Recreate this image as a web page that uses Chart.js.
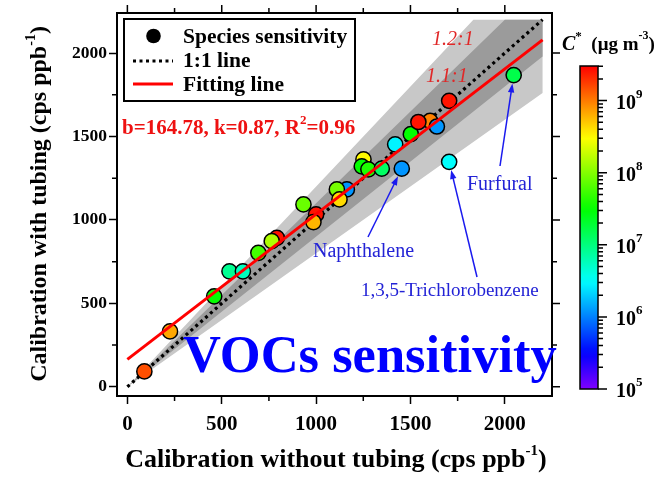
<!DOCTYPE html>
<html>
<head>
<meta charset="utf-8">
<script src="https://cdn.jsdelivr.net/npm/chart.js@4.4.1/dist/chart.umd.min.js"></script>
<style>
  html, body { margin: 0; padding: 0; background: #fff; }
  #wrap { width: 666px; height: 479px; position: relative; }
</style>
</head>
<body>
<div id="wrap"><canvas id="c" width="666" height="479"></canvas></div>
<script>
// Sensitivity of each VOC species, calibrated without and with the sampling tubing (cps ppb^-1)
const withoutTubing = [90, 226, 460, 541, 612, 694, 792, 765, 933, 1000, 986, 1163, 1110, 1124, 1251, 1242, 1277, 1348, 1454, 1419, 1502, 1604, 1542, 1640, 1705, 1705, 2047];
const withTubing    = [92, 332, 542, 692, 692, 803, 893, 873, 1093, 1033, 987, 1183, 1183, 1123, 1363, 1321, 1303, 1307, 1307, 1453, 1514, 1593, 1587, 1560, 1714, 1348, 1868];
// log10 of saturation concentration C* (ug m^-3) of each species
const logCstar      = [9.17, 8.83, 7.5, 6.92, 6.75, 7.75, 9.4, 8.17, 7.9, 9.4, 8.77, 6.08, 7.95, 8.63, 8.5, 7.5, 7.6, 7.1, 6.08, 6.45, 7.5, 8.97, 9.4, 6.08, 9.4, 6.5, 7.2];

// Labelled species: [label, index of the species]
const namedSpecies = [['Naphthalene', 18], ['1,3,5-Trichlorobenzene', 25], ['Furfural', 26]];

// Linear fit y = b + k x
const fitB = 164.78, fitK = 0.87, fitR2 = 0.96;
const lineEnd = 2200;
// ratio envelopes around the 1:1 line
const outerBand = [1.2, 0.8];
const innerBand = [1.1, 0.9];

const xTicks = [0, 500, 1000, 1500, 2000];
const yTicks = [0, 500, 1000, 1500, 2000];
const xMinorTicks = [250, 750, 1250, 1750];
const yMinorTicks = [250, 750, 1250, 1750];
const cbarDecades = [5, 6, 7, 8, 9];
const cbarMin = 5, cbarMax = 9.48;

const SERIF = '"Liberation Serif", "Times New Roman", serif';

function colorFor(v) {
  const t = Math.min(1, Math.max(0, (v - cbarMin) / (cbarMax - cbarMin)));
  return 'hsl(' + (270 * (1 - t)).toFixed(1) + ',100%,50%)';
}

function bandPolygon(r) {
  return [{x: 0, y: 0}, {x: lineEnd / r[0], y: lineEnd}, {x: lineEnd, y: lineEnd},
          {x: lineEnd, y: lineEnd * r[1]}, {x: 0, y: 0}];
}

const points = withoutTubing.map((x, i) => ({x: x, y: withTubing[i]}));
const pointColors = logCstar.map(colorFor);
const oneToOne = [{x: 0, y: 0}, {x: lineEnd, y: lineEnd}];
const fitLine = [{x: 0, y: fitB}, {x: lineEnd, y: fitB + fitK * lineEnd}];

// Draw text made of pieces, each with its own font and vertical shift
function richText(ctx, pieces, x, y, align) {
  let total = 0;
  pieces.forEach(p => { ctx.font = p.font; total += ctx.measureText(p.t).width; });
  let cx = align === 'center' ? x - total / 2 : (align === 'right' ? x - total : x);
  ctx.textAlign = 'left';
  pieces.forEach(p => {
    ctx.font = p.font;
    ctx.fillText(p.t, cx, y + (p.dy || 0));
    cx += ctx.measureText(p.t).width;
  });
}

function arrow(ctx, x0, y0, x1, y1, color) {
  const a = Math.atan2(y1 - y0, x1 - x0);
  const L = 9, W = 3.2;
  ctx.save();
  ctx.strokeStyle = color; ctx.fillStyle = color; ctx.lineWidth = 1.5;
  ctx.beginPath(); ctx.moveTo(x0, y0);
  ctx.lineTo(x1 - Math.cos(a) * L * 0.8, y1 - Math.sin(a) * L * 0.8); ctx.stroke();
  ctx.beginPath();
  ctx.moveTo(x1, y1);
  ctx.lineTo(x1 - Math.cos(a) * L - Math.sin(a) * W, y1 - Math.sin(a) * L + Math.cos(a) * W);
  ctx.lineTo(x1 - Math.cos(a) * L + Math.sin(a) * W, y1 - Math.sin(a) * L - Math.cos(a) * W);
  ctx.closePath(); ctx.fill();
  ctx.restore();
}

const decorations = {
  id: 'decorations',
  afterDraw(chart) {
    const ctx = chart.ctx;
    const area = chart.chartArea;
    const xs = chart.scales.x, ys = chart.scales.y;
    ctx.save();

    // plot frame
    ctx.strokeStyle = '#000'; ctx.lineWidth = 2;
    ctx.strokeRect(area.left, area.top, area.right - area.left, area.bottom - area.top);

    // minor ticks and mirrored ticks on top and right
    ctx.lineWidth = 1.5; ctx.beginPath();
    xTicks.forEach(v => { const px = xs.getPixelForValue(v); ctx.moveTo(px, area.top); ctx.lineTo(px, area.top - 8); });
    xMinorTicks.forEach(v => { const px = xs.getPixelForValue(v);
      ctx.moveTo(px, area.top); ctx.lineTo(px, area.top - 5);
      ctx.moveTo(px, area.bottom); ctx.lineTo(px, area.bottom + 5); });
    yTicks.forEach(v => { const py = ys.getPixelForValue(v); ctx.moveTo(area.right, py); ctx.lineTo(area.right + 8, py); });
    yMinorTicks.forEach(v => { const py = ys.getPixelForValue(v);
      ctx.moveTo(area.right, py); ctx.lineTo(area.right + 5, py);
      ctx.moveTo(area.left, py); ctx.lineTo(area.left - 5, py); });
    ctx.stroke();

    // axis titles
    ctx.fillStyle = '#000'; ctx.textBaseline = 'alphabetic';
    richText(ctx, [
      {t: 'Calibration without tubing (cps ppb', font: 'bold 26px ' + SERIF},
      {t: '-1', font: 'bold 15px ' + SERIF, dy: -12},
      {t: ')', font: 'bold 26px ' + SERIF}], 336, 467, 'center');
    ctx.save();
    ctx.translate(46, 204); ctx.rotate(-Math.PI / 2);
    richText(ctx, [
      {t: 'Calibration with tubing (cps ppb', font: 'bold 24px ' + SERIF},
      {t: '-1', font: 'bold 14px ' + SERIF, dy: -11},
      {t: ')', font: 'bold 24px ' + SERIF}], 0, 0, 'center');
    ctx.restore();

    // legend
    ctx.fillStyle = '#fff'; ctx.fillRect(124, 19, 231, 82);
    ctx.strokeStyle = '#000'; ctx.lineWidth = 2; ctx.strokeRect(124, 19, 231, 82);
    ctx.fillStyle = '#000'; ctx.beginPath(); ctx.arc(153.5, 36, 7.3, 0, Math.PI * 2); ctx.fill();
    ctx.save(); ctx.setLineDash([3, 3.5]); ctx.lineWidth = 3.2;
    ctx.beginPath(); ctx.moveTo(133, 61); ctx.lineTo(173, 61); ctx.stroke(); ctx.restore();
    ctx.strokeStyle = '#ff0000'; ctx.lineWidth = 3;
    ctx.beginPath(); ctx.moveTo(133, 84); ctx.lineTo(173, 84); ctx.stroke();
    ctx.fillStyle = '#000'; ctx.font = 'bold 21.5px ' + SERIF; ctx.textAlign = 'left';
    ctx.fillText('Species sensitivity', 183, 43);
    ctx.fillText('1:1 line', 183, 67);
    ctx.fillText('Fitting line', 183, 91);

    // fit statistics
    ctx.fillStyle = '#ee1111';
    richText(ctx, [
      {t: 'b=' + fitB.toFixed(2) + ', k=' + fitK.toFixed(2) + ', R', font: 'bold 21px ' + SERIF},
      {t: '2', font: 'bold 13px ' + SERIF, dy: -10},
      {t: '=' + fitR2.toFixed(2), font: 'bold 21px ' + SERIF}], 122, 134, 'left');

    // envelope labels
    ctx.fillStyle = '#e02828'; ctx.font = 'italic 20px ' + SERIF; ctx.textAlign = 'left';
    ctx.fillText(outerBand[0].toFixed(1) + ':1', 432, 45);
    ctx.fillText(innerBand[0].toFixed(1) + ':1', 426, 82);

    // labelled species with arrows
    const blue = '#2323d6';
    const labelPos = {
      'Naphthalene': {x: 313, y: 257, size: 20, from: [368, 237]},
      '1,3,5-Trichlorobenzene': {x: 361, y: 296, size: 19, from: [477, 277]},
      'Furfural': {x: 467, y: 190, size: 20, from: [500, 166]}
    };
    namedSpecies.forEach(([name, idx]) => {
      const lp = labelPos[name];
      ctx.fillStyle = blue; ctx.font = lp.size + 'px ' + SERIF; ctx.textAlign = 'left';
      ctx.fillText(name, lp.x, lp.y);
      const px = xs.getPixelForValue(withoutTubing[idx]);
      const py = ys.getPixelForValue(withTubing[idx]);
      const a = Math.atan2(py - lp.from[1], px - lp.from[0]);
      arrow(ctx, lp.from[0], lp.from[1], px - Math.cos(a) * 8.5, py - Math.sin(a) * 8.5, '#1a1aee');
    });

    // title
    ctx.fillStyle = '#0000ff'; ctx.font = 'bold 52.5px ' + SERIF; ctx.textAlign = 'left';
    ctx.fillText('VOCs sensitivity', 183, 372);

    // colour bar
    const cbL = 580, cbR = 598, cbT = 66, cbB = 389;
    const cy = lv => cbB - (lv - cbarMin) / (cbarMax - cbarMin) * (cbB - cbT);
    const grad = ctx.createLinearGradient(0, cbB, 0, cbT);
    for (let i = 0; i <= 40; i++) {
      const lv = cbarMin + (cbarMax - cbarMin) * i / 40;
      grad.addColorStop(i / 40, colorFor(lv));
    }
    ctx.fillStyle = grad; ctx.fillRect(cbL, cbT, cbR - cbL, cbB - cbT);
    ctx.strokeStyle = '#000'; ctx.lineWidth = 1.5; ctx.strokeRect(cbL, cbT, cbR - cbL, cbB - cbT);
    ctx.beginPath();
    for (let d = cbarMin; d <= 9; d++) {
      for (let m = 1; m <= 9; m++) {
        const lv = d + Math.log10(m);
        if (lv > cbarMax) continue;
        const py = cy(lv);
        ctx.moveTo(cbR, py); ctx.lineTo(cbR + (m === 1 ? 9 : 5), py);
      }
    }
    ctx.stroke();
    ctx.fillStyle = '#000';
    cbarDecades.forEach(d => {
      const py = cy(d);
      richText(ctx, [
        {t: '10', font: 'bold 20px ' + SERIF},
        {t: String(d), font: 'bold 13px ' + SERIF, dy: -11}], 616, py + 8, 'left');
    });
    richText(ctx, [
      {t: 'C', font: 'italic bold 20px ' + SERIF},
      {t: '*', font: 'bold 13px ' + SERIF, dy: -10},
      {t: '  (\u03bcg m', font: 'bold 19px ' + SERIF},
      {t: '-3', font: 'bold 12px ' + SERIF, dy: -11},
      {t: ')', font: 'bold 19px ' + SERIF}], 562, 50, 'left');

    ctx.restore();
  }
};

new Chart(document.getElementById('c'), {
  type: 'scatter',
  data: {
    datasets: [
      {type: 'line', data: bandPolygon(outerBand), fill: 'shape', backgroundColor: '#c8c8c8',
       borderWidth: 0, pointRadius: 0, order: 6},
      {type: 'line', data: bandPolygon(innerBand), fill: 'shape', backgroundColor: '#9b9b9b',
       borderWidth: 0, pointRadius: 0, order: 5},
      {type: 'line', data: oneToOne, borderColor: '#000', borderWidth: 3.2, borderDash: [3, 3.5],
       pointRadius: 0, fill: false, order: 4},
      {type: 'scatter', data: points, pointRadius: 7.6, pointBackgroundColor: pointColors,
       pointBorderColor: '#000', pointBorderWidth: 1.5, order: 3},
      {type: 'line', data: fitLine, borderColor: '#ff0000', borderWidth: 3,
       pointRadius: 0, fill: false, order: 2}
    ]
  },
  options: {
    responsive: false, animation: false, devicePixelRatio: 1,
    layout: {padding: {top: 13, right: 114, left: 0, bottom: 0}},
    plugins: {legend: {display: false}, tooltip: {enabled: false}},
    scales: {
      x: {
        type: 'linear', min: -55, max: 2250,
        afterBuildTicks: s => { s.ticks = xTicks.map(v => ({value: v})); },
        afterFit: s => { s.height = 83; },
        grid: {display: true, drawOnChartArea: false, drawTicks: true, tickLength: 8, tickWidth: 1.5, tickColor: '#000'},
        border: {display: false},
        ticks: {font: {family: SERIF, weight: 'bold', size: 21}, color: '#000', padding: 8, maxRotation: 0,
                callback: v => String(v)}
      },
      y: {
        type: 'linear', min: -55, max: 2240,
        afterBuildTicks: s => { s.ticks = yTicks.map(v => ({value: v})); },
        afterFit: s => { s.width = 117; },
        grid: {display: true, drawOnChartArea: false, drawTicks: true, tickLength: 8, tickWidth: 1.5, tickColor: '#000'},
        border: {display: false},
        ticks: {font: {family: SERIF, weight: 'bold', size: 17.5}, color: '#000', padding: 2,
                callback: v => String(v)}
      }
    }
  },
  plugins: [decorations]
});
</script>
</body>
</html>
